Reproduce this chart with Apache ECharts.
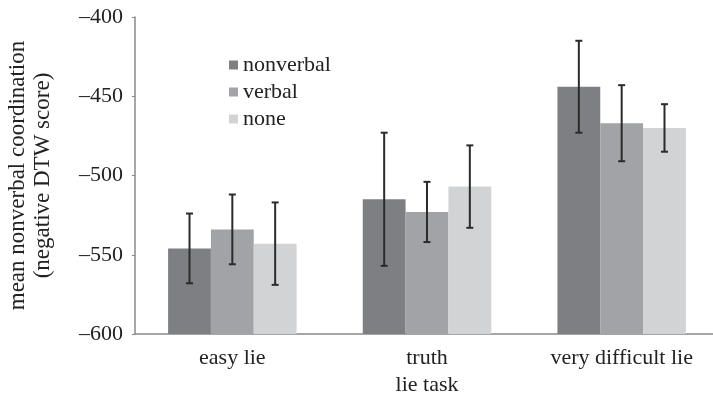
<!DOCTYPE html>
<html>
<head>
<meta charset="utf-8">
<script src="https://cdn.jsdelivr.net/npm/echarts@6/dist/echarts.min.js"></script>
<style>
  html, body { margin: 0; padding: 0; background: #fff; }
  #chart { width: 713px; height: 400px; }
</style>
</head>
<body>
<div id="chart"></div>
<script>
const categories = ['easy lie', 'truth', 'very difficult lie']
const seriesNames = ['nonverbal', 'verbal', 'none']
const nonverbalMean = [-546, -515, -444]
const verbalMean = [-534, -523, -467]
const noneMean = [-543, -507, -470]
const nonverbalErr = [22, 42, 29]
const verbalErr = [22, 19, 24]
const noneErr = [26, 26, 15]
const yTicks = [-600, -550, -500, -450, -400]

const means = [nonverbalMean, verbalMean, noneMean]
const errs = [nonverbalErr, verbalErr, noneErr]
const colors = ['#7e7f83', '#a1a3a6', '#d2d3d5']
const barFrac = 0.22
const font = '"Liberation Serif", "DejaVu Serif", serif'
const yMin = yTicks[0]

const chart = echarts.init(document.getElementById('chart'))

// bars grow up from the axis floor (-600), not from 0
const barSeries = seriesNames.map((name, k) => ({
  name,
  type: 'custom',
  itemStyle: { color: colors[k] },
  z: 2,
  data: means[k].map((m, i) => [i, m]),
  renderItem: (params, api) => {
    const band = api.size([1, 0])[0]
    const w = band * barFrac
    const top = api.coord([api.value(0), api.value(1)])
    const bot = api.coord([api.value(0), yMin])
    const x0 = top[0] + (k - 1.5) * w
    return {
      type: 'rect',
      shape: { x: x0, y: top[1], width: w, height: bot[1] - top[1] },
      style: { fill: colors[k] }
    }
  }
}))

const errSeries = seriesNames.map((name, k) => ({
  type: 'custom',
  name: name + ' err',
  z: 5,
  data: means[k].map((m, i) => [i, m - errs[k][i], m + errs[k][i]]),
  renderItem: (params, api) => {
    const band = api.size([1, 0])[0]
    const off = (k - 1) * band * barFrac
    const top = api.coord([api.value(0), api.value(2)])
    const bot = api.coord([api.value(0), api.value(1)])
    const cx = top[0] + off
    const cap = 3.5
    const style = { stroke: '#2b2b2b', lineWidth: 2 }
    return {
      type: 'group',
      children: [
        { type: 'line', shape: { x1: cx, y1: top[1], x2: cx, y2: bot[1] }, style },
        { type: 'line', shape: { x1: cx - cap, y1: top[1], x2: cx + cap, y2: top[1] }, style },
        { type: 'line', shape: { x1: cx - cap, y1: bot[1], x2: cx + cap, y2: bot[1] }, style }
      ]
    }
  }
}))

chart.setOption({
  animation: false,
  textStyle: { fontFamily: font },
  grid: { left: 135, top: 17, bottom: 66, width: 584, containLabel: false, outerBoundsMode: 'none' },
  legend: {
    data: seriesNames,
    orient: 'vertical',
    left: 224,
    top: 49,
    itemWidth: 9,
    itemHeight: 9,
    itemGap: 5,
    icon: 'rect',
    textStyle: { fontFamily: font, fontSize: 22, color: '#222' }
  },
  xAxis: {
    type: 'category',
    data: categories,
    name: 'lie task',
    nameLocation: 'middle',
    nameGap: 40,
    nameTextStyle: { fontFamily: font, fontSize: 22, color: '#222' },
    axisLine: { lineStyle: { color: '#888', width: 1.5 } },
    axisTick: { length: 4, lineStyle: { color: '#888' } },
    axisLabel: { interval: 0, fontFamily: font, fontSize: 22, color: '#222', margin: 13 }
  },
  yAxis: {
    type: 'value',
    min: yMin,
    max: yTicks[yTicks.length - 1],
    interval: 50,
    name: 'mean nonverbal coordination\n(negative DTW score)',
    nameLocation: 'middle',
    nameGap: 80,
    nameTextStyle: { fontFamily: font, fontSize: 23, color: '#222', lineHeight: 25 },
    splitLine: { show: false },
    axisLine: { show: true, lineStyle: { color: '#888', width: 1.5 } },
    axisTick: { show: true, length: 3, lineStyle: { color: '#888' } },
    axisLabel: {
      fontFamily: font, fontSize: 22, color: '#222', margin: 12,
      formatter: v => String(v).replace('-', '\u2013')
    }
  },
  series: [...barSeries, ...errSeries]
})
</script>
</body>
</html>
